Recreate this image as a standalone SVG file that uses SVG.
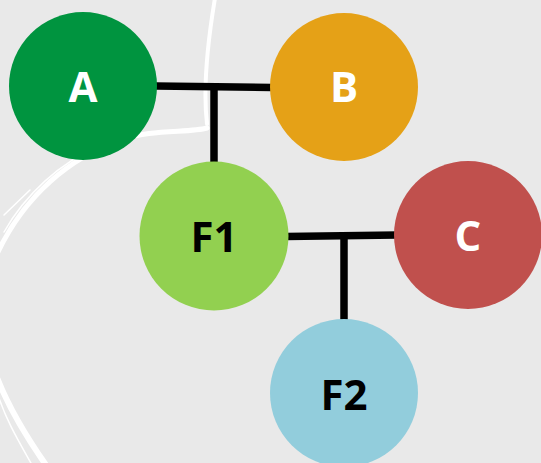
<svg xmlns="http://www.w3.org/2000/svg" width="541" height="463" viewBox="0 0 541 463">
<style>
.bg{fill:#e9e9e9}
.brush{fill:none;stroke:#ffffff;stroke-linecap:round}
.link{fill:none;stroke:#000000;stroke-width:7.5;stroke-linecap:butt}
.lbl{font-family:"Open Sans","Liberation Sans",sans-serif;font-weight:bold;font-size:42px;text-anchor:middle}
.w{fill:#ffffff}
.k{fill:#000000}
</style>
<rect class="bg" x="0" y="0" width="541" height="463"/>
<g id="brush">
<path class="brush" stroke-width="4" d="M 215 -2 C 208 40, 203 90, 207 124"/>
<path class="brush" stroke-width="5" d="M 207 128 C 190 133, 150 129, 120 140 C 70 158, 25 195, -2 252"/>
<path class="brush" stroke-width="1.5" d="M 100 146 C 60 162, 25 195, 4 232"/>
<path class="brush" stroke-width="1.5" d="M 30 190 L 4 215"/>
<path class="brush" stroke-width="6" d="M -2 380 C 8 405, 25 435, 46 465"/>
<path class="brush" stroke-width="1.5" d="M -2 395 C 6 420, 18 440, 32 465"/>
</g>
<g id="connectors">
<path class="link" d="M 156 86 L 272 87.5"/>
<path class="link" d="M 214 87 L 214 164"/>
<path class="link" d="M 286 236.5 L 397 235"/>
<path class="link" d="M 344 236 L 344 322"/>
</g>
<g id="A"><circle cx="83" cy="86" r="74" fill="#00943f"/><text class="lbl w" x="83" y="102">A</text></g>
<g id="B"><circle cx="344" cy="87" r="74" fill="#e5a117"/><text class="lbl w" x="344" y="102">B</text></g>
<g id="F1"><circle cx="214" cy="236" r="74.5" fill="#92d050"/><text class="lbl k" x="214" y="252">F1</text></g>
<g id="C"><circle cx="468" cy="235" r="74" fill="#c0504d"/><text class="lbl w" x="468" y="251">C</text></g>
<g id="F2"><circle cx="344" cy="393" r="74" fill="#92cddc"/><text class="lbl k" x="344" y="410">F2</text></g>
</svg>
